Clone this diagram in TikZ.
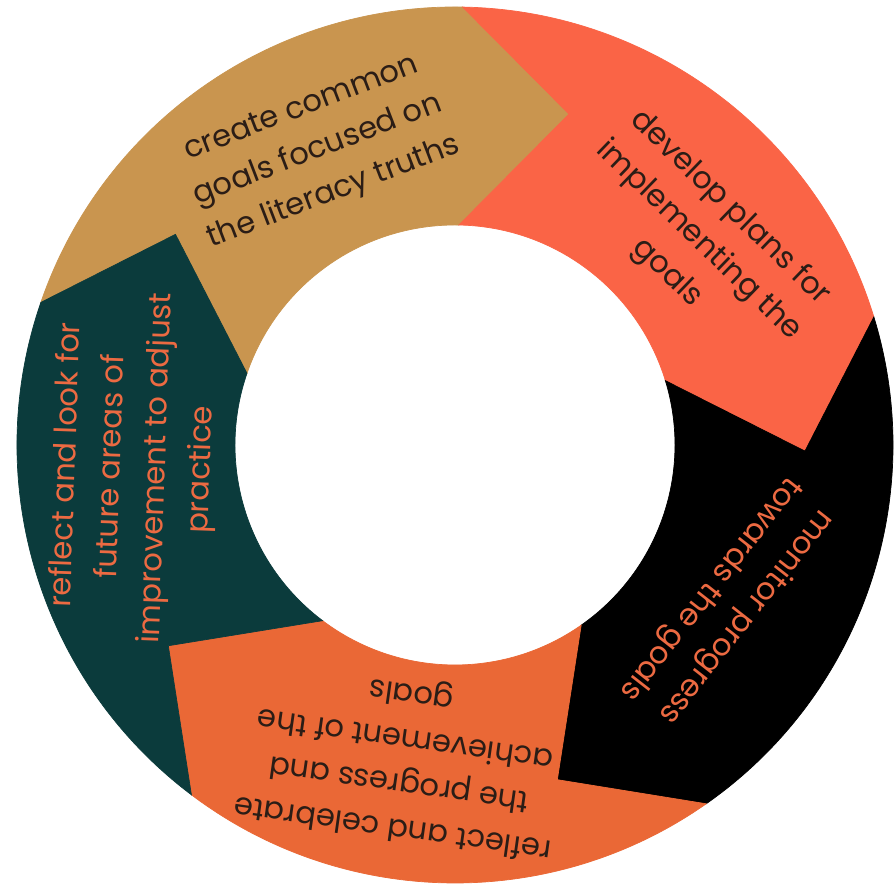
\documentclass[tikz,border=0pt]{standalone}
\usepackage{fontspec}
\setmainfont{Poppins}
\usetikzlibrary{calc}
\definecolor{goldtan}{HTML}{C9954F}
\definecolor{coral}{HTML}{FA6446}
\definecolor{inkblack}{HTML}{000000}
\definecolor{burnt}{HTML}{EA6836}
\definecolor{deepteal}{HTML}{0B3B3C}
\definecolor{darktxt}{HTML}{2B1D16}
\definecolor{warmtxt}{HTML}{EC6A42}
\tikzset{
  seg/.style={fill=#1,draw=#1,line width=0.2pt},
  lbl/.style={align=center,inner sep=0pt,text=#1,
              font=\fontsize{8.7}{12.8}\selectfont},
}

\begin{document}
\begin{tikzpicture}
  \fill[white] (0,0) rectangle (8.94,8.89);
  \useasboundingbox (0,0) rectangle (8.94,8.89);
  \begin{scope}[shift={(4.55,4.44)}]
    % ring pieces, each one points clockwise into the next
    \foreach \a/\col in {161/goldtan,89/coral,17/inkblack,-55/burnt,-127/deepteal}{
      \path[seg=\col] (\a:4.38) arc[start angle=\a,end angle=\a-72,radius=4.38]
        -- (\a-90:3.5) -- (\a-72:2.2)
        arc[start angle=\a-72,end angle=\a,radius=2.2]
        -- (\a-18:3.5) -- cycle;
    }
    \node[lbl=darktxt, rotate=21] (create) at (115:3.24)
      {create common\\goals focused on\\the literacy truths};
    \node[lbl=darktxt, rotate=-44] (develop) at (40:3.18)
      {develop plans for\\implementing the\\goals};
    \node[lbl=warmtxt, rotate=-128] (monitor) at (-30:3.15)
      {monitor progress\\towards the goals};
    \node[lbl=darktxt, rotate=172] (celebrate) at (-99.5:3.19)
      {reflect and celebrate\\the progress and\\achievement of the\\goals};
    \node[lbl=warmtxt, rotate=88] (reflect) at (184:3.21)
      {reflect and look for\\future areas of\\improvement to adjust\\practice};
  \end{scope}
\end{tikzpicture}
\end{document}
